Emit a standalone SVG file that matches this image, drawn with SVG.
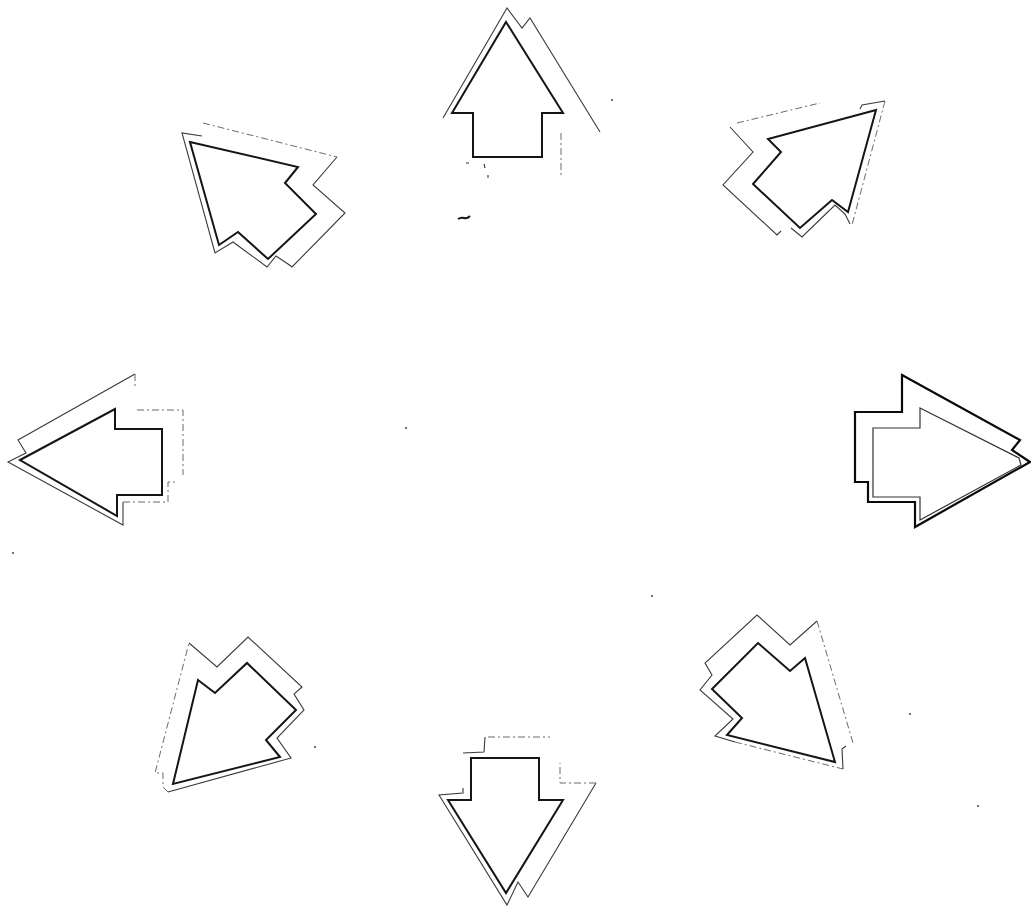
<svg xmlns="http://www.w3.org/2000/svg" width="1031" height="911" viewBox="0 0 1031 911">
<style>
.in{fill:none;stroke:#151515;stroke-width:2;stroke-linejoin:miter}
.out{fill:none;stroke:#3a3a3a;stroke-width:1.1}
.dash{fill:none;stroke:#6a6a6a;stroke-width:1;stroke-dasharray:7 3 2 3}
.thick{fill:none;stroke:#0a0a0a;stroke-width:2.2}
.thin{fill:none;stroke:#333;stroke-width:1.2}
.dot{fill:#444}
</style>
<rect width="1031" height="911" fill="#fff"/>
<g id="arrow-up">
<polygon class="in" points="506,22 563,113 542,113 542,157 473,157 473,113 452,113"/>
<polyline class="out" points="443,118 507,8 522,28 530,18 600,132"/>
<polyline class="dash" points="561,133 561,177"/>
<path class="out" d="M466,163 l3,0 M484,164 l1,4 M488,175 l0,3"/>
<path class="in" d="M458,219 q3,-2 6,-1 q3,1 6,-2" stroke-width="1.5"/>
</g>
<g id="arrow-upleft">
<polygon class="in" points="190,142 298,167 285,183 316,214 268,259 238,232 219,245"/>
<polyline class="dash" points="203,123 337,157"/>
<polyline class="out" points="337,157 313,185 345,213 292,267 288,264 276,256 267,267 233,242 215,253 182,133 202,136"/>
</g>
<g id="arrow-upright">
<polygon class="in" points="876,110 768,139 781,152 753,184 800,228 832,200 848,212"/>
<polyline class="dash" points="737,123 820,103"/>
<polyline class="out" points="860,109 862,105 885,101"/>
<polyline class="dash" points="885,101 852,225"/>
<polyline class="out" points="730,127 753,152 723,185 777,235 781,231"/>
<polyline class="out" points="791,228 802,237 835,205 845,214 850,224"/>
</g>
<g id="arrow-left">
<polygon class="in" points="20,460 115,409 115,429 162,429 162,495 117,495 117,516"/>
<polyline class="out" points="135,374 18,440 26,453 8,462 123,525 123,502"/>
<polyline class="dash" points="123,502 168,502 168,482 177,482"/>
<polyline class="dash" points="135,374 135,386"/>
<polyline class="dash" points="137,410 183,410 183,475"/>
</g>
<g id="arrow-right">
<polygon class="thick" points="902,375 1020,440 1012,450 1030,462 915,527 915,502 868,502 868,482 855,482 855,412 902,412"/>
<polygon class="thin" points="920,408 1019,458 1021,465 920,520 920,497 873,497 873,428 920,428"/>
</g>
<g id="arrow-downleft">
<polygon class="in" points="198,680 215,693 247,663 296,710 266,740 280,757 173,784"/>
<polyline class="out" points="189,643 217,667 248,637 302,687 294,694 304,710 277,738 291,758 168,792"/>
<polyline class="dash" points="168,792 163,787 163,773 155,773 189,643"/>
</g>
<g id="arrow-downright">
<polygon class="in" points="758,643 790,671 805,658 835,762 727,735 742,718 712,689"/>
<polyline class="out" points="817,621 790,645 757,615 705,663 712,675 700,690 733,719 715,736 735,742"/>
<polyline class="dash" points="735,742 843,769"/>
<polyline class="dash" points="817,621 853,743"/>
<polyline class="out" points="843,769 842,749 846,746"/>
</g>
<g id="arrow-down">
<polygon class="in" points="471,758 539,758 539,800 563,800 506,893 448,800 471,800"/>
<polyline class="out" points="463,788 463,793 439,795 507,905 518,882 528,897 596,783"/>
<polyline class="dash" points="596,783 560,783 560,763"/>
<polyline class="dash" points="488,737 550,737"/>
<polyline class="out" points="485,737 484,752 463,753"/>
</g>
<g id="specks">
<circle class="dot" cx="612" cy="100" r="1"/>
<circle class="dot" cx="13" cy="553" r="1"/>
<circle class="dot" cx="406" cy="428" r="1"/>
<circle class="dot" cx="652" cy="596" r="1"/>
<circle class="dot" cx="910" cy="714" r="1"/>
<circle class="dot" cx="978" cy="806" r="1"/>
<circle class="dot" cx="315" cy="747" r="1"/>
</g>
</svg>
